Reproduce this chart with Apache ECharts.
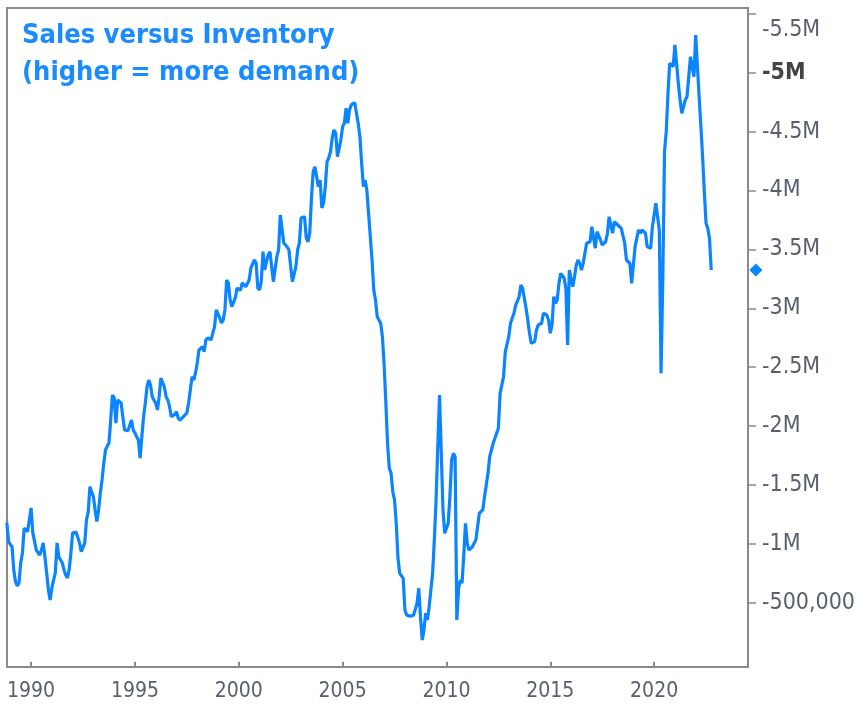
<!DOCTYPE html>
<html>
<head>
<meta charset="utf-8">
<script src="https://cdn.jsdelivr.net/npm/echarts@6/dist/echarts.min.js"></script>
<style>
  html, body { margin: 0; padding: 0; background: #fff; }
</style>
</head>
<body>
<div id="chart" style="width: 861px; height: 708px"></div>
<script>
// monthly sales vs inventory (thousands), first month is Nov 1988
const startYear = 1988
const startMonth = 11
const values = [
  1180, 1019,
  995, 976, 779, 679, 643, 668, 838, 923, 1135, 1146, 1104, 1093,
  1305, 1093, 1093, 948, 925, 906, 950, 1008, 891, 753, 609, 524,
  626, 694, 753, 1008, 891, 906, 840, 779, 736, 711, 779, 923,
  1093, 1104, 1100, 1104, 1008, 934, 923, 1008, 1203, 1270, 1486, 1440,
  1401, 1288, 1189, 1288, 1432, 1543, 1687, 1797, 1830, 1857, 2052, 2264,
  2239, 2026, 2222, 2210, 2196, 2080, 1967, 1967, 1960, 1953, 2052, 1967,
  1942, 1910, 1882, 1729, 1910, 2080, 2196, 2334, 2391, 2349, 2250, 2220,
  2196, 2137, 2250, 2408, 2419, 2334, 2250, 2222, 2165, 2080, 2094, 2100,
  2122, 2069, 2050, 2037, 2080, 2095, 2111, 2196, 2306, 2419, 2391, 2451,
  2536, 2646, 2660, 2674, 2632, 2731, 2748, 2740, 2731, 2790, 2844, 2986,
  2971, 2918, 2875, 2901, 2986, 3240, 3215, 3071, 3014, 3014, 3088, 3172,
  3165, 3155, 3215, 3200, 3183, 3198, 3240, 3342, 3353, 3410, 3385, 3172,
  3155, 3226, 3481, 3325, 3396, 3453, 3481, 3467, 3226, 3215, 3438, 3495,
  3792, 3792, 3554, 3537, 3520, 3495, 3353, 3226, 3215, 3353, 3495, 3554,
  3767, 3777, 3777, 3597, 3565, 3639, 3936, 4160, 4202, 4191, 4032, 4089,
  3852, 3894, 4032, 4245, 4276, 4329, 4446, 4514, 4488, 4287, 4287, 4429,
  4542, 4571, 4698, 4571, 4683, 4726, 4740, 4745, 4740, 4571, 4457, 4231,
  4032, 4089, 4004, 3806, 3608, 3410, 3155, 3071, 2929, 2900, 2873, 2759,
  2519, 2194, 1840, 1642, 1599, 1443, 1373, 1175, 878, 750, 730, 708,
  439, 397, 385, 385, 382, 395, 411, 496, 623, 382, 184, 269,
  411, 354, 467, 609, 750, 1033, 1373, 1825, 2264, 2250, 1288, 1090,
  1090, 1175, 1401, 1712, 1769, 1740, 354, 620, 694, 666, 900, 1175,
  1005, 948, 960, 976, 1005, 1033, 1019, 1260, 1260, 1288, 1401, 1415,
  1599, 1740, 1797, 1854, 1896, 1939, 1981, 2278, 2292, 2419, 2632, 2632,
  2759, 2873, 2915, 2958, 3028, 3060, 3099, 3198, 3170, 3085, 3000, 2901,
  2788, 2703, 2689, 2717, 2816, 2858, 2865, 2873, 2958, 2950, 2943, 2901,
  2788, 2858, 3099, 3042, 3071, 3212, 3297, 3283, 3255, 3170, 2689, 3325,
  3325, 3183, 3268, 3368, 3410, 3380, 3325, 3382, 3467, 3552, 3560, 3565,
  3693, 3693, 3510, 3650, 3650, 3580, 3537, 3550, 3565, 3637, 3777, 3777,
  3637, 3735, 3750, 3707, 3722, 3679, 3665, 3552, 3410, 3410, 3382, 3212,
  3226, 3523, 3509, 3665, 3637, 3665, 3679, 3637, 3523, 3509, 3509, 3693,
  3693, 3891, 3891, 3665, 2448, 3240, 4329, 4499, 4825, 5080, 5080, 5051,
  5235, 5221, 4910, 4768, 4655, 4641, 4768, 4796, 4966, 5136, 5150, 4966,
  5320, 5320, 4796, 4550, 4287, 3990, 3722, 3679, 3594, 3325
]
const yearTicks = [1990, 1995, 2000, 2005, 2010, 2015, 2020]
const valueTicks = [500, 1000, 1500, 2000, 2500, 3000, 3500, 4000, 4500, 5000, 5500]
const valueLabels = ['-500,000', '-1M', '-1.5M', '-2M', '-2.5M', '-3M', '-3.5M', '-4M', '-4.5M', '-5M', '-5.5M']

const lineColor = '#0a84ff'
const font = '"DejaVu Sans Condensed", "DejaVu Sans", sans-serif'

var points = values.map(function (v, i) {
  return [startYear + (startMonth - 1 + i) / 12, v]
})
var last = points[points.length - 1]

var myChart = echarts.init(document.getElementById('chart'))
myChart.setOption({
  animation: false,
  title: {
    text: 'Sales versus Inventory\n(higher = more demand)',
    left: 17,
    top: 12,
    textStyle: {
      color: '#1a8cff',
      fontFamily: font,
      fontWeight: 'bold',
      fontSize: 27,
      lineHeight: 37
    }
  },
  grid: {
    left: 7,
    right: 113,
    top: 8,
    bottom: 41,
    show: true,
    borderColor: '#8a8a8a',
    borderWidth: 2
  },
  xAxis: {
    type: 'value',
    min: 1988.84,
    max: 2024.52,
    offset: 4,
    splitLine: { show: false },
    axisLine: { show: false },
    axisTick: {
      customValues: yearTicks,
      length: 5,
      lineStyle: { color: '#8a8a8a', width: 2 }
    },
    axisLabel: {
      customValues: yearTicks,
      margin: 10,
      color: '#5a5f6e',
      fontFamily: font,
      fontSize: 21,
      formatter: function (v) { return String(v) }
    }
  },
  yAxis: {
    type: 'value',
    position: 'right',
    min: -45,
    max: 5549,
    splitLine: { show: false },
    axisLine: { show: true, lineStyle: { color: '#8a8a8a', width: 2 } },
    axisTick: {
      customValues: valueTicks,
      length: 8,
      lineStyle: { color: '#8a8a8a', width: 1.5 }
    },
    axisLabel: {
      customValues: valueTicks,
      margin: 14,
      color: '#5a5f6e',
      fontFamily: font,
      fontSize: 23,
      formatter: function (v) {
        var t = valueLabels[valueTicks.indexOf(v)]
        if (v === 5000) return '{b|' + t + '}'
        if (v === 5500) return '{top|' + t + '}'
        return t
      },
      rich: {
        b: { fontWeight: 'bold', color: '#444', fontFamily: font, fontSize: 23 },
        top: { padding: [32, 0, 0, 0], color: '#5a5f6e', fontFamily: font, fontSize: 23 }
      }
    }
  },
  series: [
    {
      type: 'line',
      data: points,
      showSymbol: false,
      lineStyle: { color: lineColor, width: 3.2 },
      itemStyle: { color: lineColor }
    },
    {
      // last-value marker sitting on the right axis
      type: 'scatter',
      clip: false,
      symbol: 'diamond',
      symbolSize: 13,
      itemStyle: { color: lineColor, opacity: 1 },
      data: [[2024.9, last[1]]]
    }
  ]
})
</script>
</body>
</html>
